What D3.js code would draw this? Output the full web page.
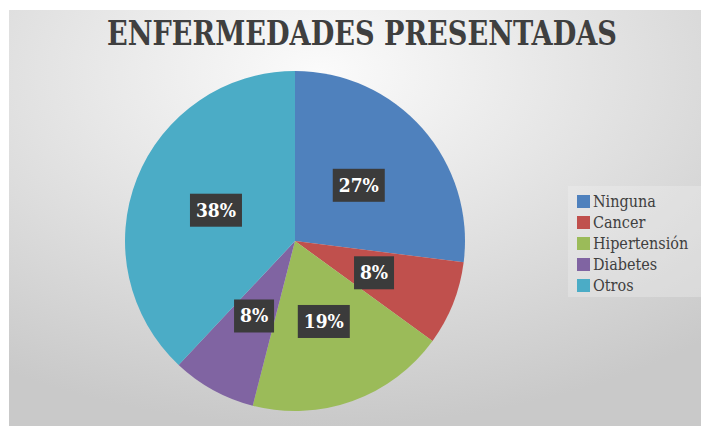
<!DOCTYPE html>
<html>
<head>
<meta charset="utf-8">
<script src="https://cdn.jsdelivr.net/npm/d3@7"></script>
<style>
body{margin:0;background:#fff;}
svg{display:block;}
</style>
</head>
<body>
<svg id="chart" width="701" height="426"></svg>
<script>
var categories = ["Ninguna", "Cancer", "Hipertensión", "Diabetes", "Otros"];
var values = [27, 8, 19, 8, 38];
var colors = ["#4F81BD", "#C0504D", "#9BBB59", "#8064A2", "#4BACC6"];
var title = "ENFERMEDADES PRESENTADAS";

var svg = d3.select("#chart");
var W = 701, H = 426;

// background gradient like the office chart area
var defs = svg.append("defs");
var grad = defs.append("radialGradient")
	.attr("id", "bg")
	.attr("cx", "45%").attr("cy", "15%").attr("r", "85%");
grad.append("stop").attr("offset", "0%").attr("stop-color", "#fbfbfb");
grad.append("stop").attr("offset", "100%").attr("stop-color", "#c9c9c9");

svg.append("rect")
	.attr("x", 9).attr("y", 10)
	.attr("width", W - 9).attr("height", H - 10)
	.attr("fill", "url(#bg)");

// title
var t = svg.append("text")
	.attr("x", 362).attr("y", 45)
	.attr("text-anchor", "middle")
	.style("font-family", "'DejaVu Serif Condensed', 'DejaVu Serif', serif")
	.style("font-weight", "bold")
	.style("font-size", "34px")
	.style("fill", "#3f3f3f")
	.text(title);
t.attr("textLength", 510).attr("lengthAdjust", "spacingAndGlyphs");

// pie
var cx = 295, cy = 241, r = 170;
var data = categories.map(function(c, i){ return {name: c, value: values[i], color: colors[i]}; });
var pie = d3.pie().sort(null).value(function(d){ return d.value; });
var arc = d3.arc().innerRadius(0).outerRadius(r);
var arcs = pie(data);

var g = svg.append("g").attr("transform", "translate(" + cx + "," + cy + ")");
g.selectAll("path")
	.data(arcs)
	.enter().append("path")
	.attr("d", arc)
	.attr("fill", function(d){ return d.data.color; })
	.attr("stroke", "none");

var total = d3.sum(values);
var labels = g.selectAll("g.lbl")
	.data(arcs)
	.enter().append("g")
	.attr("class", "lbl")
	.attr("transform", function(d){ return "translate(" + arc.centroid(d) + ")"; });

labels.each(function(d){
	var lg = d3.select(this);
	var txt = Math.round(d.data.value / total * 100) + "%";
	var w = txt.length == 3 ? 52 : 40;
	lg.append("rect")
		.attr("x", -w / 2).attr("y", -16)
		.attr("width", w).attr("height", 33)
		.attr("fill", "#3b3b3b");
	lg.append("text")
		.attr("text-anchor", "middle")
		.attr("y", 7)
		.style("font-family", "'DejaVu Serif Condensed', 'DejaVu Serif', serif")
		.style("font-weight", "bold")
		.style("font-size", "19px")
		.style("fill", "#ffffff")
		.text(txt);
});

// legend
svg.append("rect")
	.attr("x", 568).attr("y", 186)
	.attr("width", 133).attr("height", 111)
	.attr("fill", "#f0f0f0").attr("opacity", 0.35);

var legend = svg.append("g").attr("transform", "translate(577,195)");
var items = legend.selectAll("g")
	.data(data)
	.enter().append("g")
	.attr("transform", function(d, i){ return "translate(0," + (i * 21) + ")"; });
items.append("rect")
	.attr("width", 13).attr("height", 13)
	.attr("fill", function(d){ return d.color; });
items.append("text")
	.attr("x", 16).attr("y", 12)
	.style("font-family", "'DejaVu Serif Condensed', 'DejaVu Serif', serif")
	.style("font-size", "16px")
	.style("fill", "#404040")
	.text(function(d){ return d.name; });
</script>
</body>
</html>
